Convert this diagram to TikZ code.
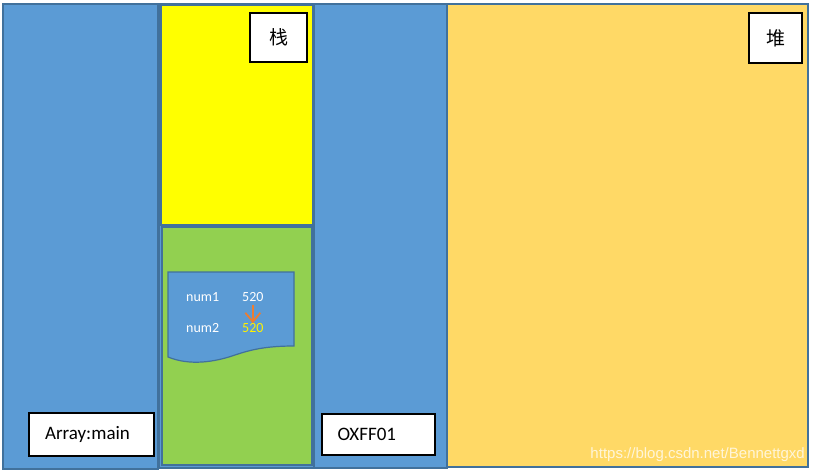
\documentclass[tikz,border=0pt]{standalone}
\usepackage{fontspec}
\setmainfont{Carlito}
\newfontfamily\cjk{Noto Sans CJK SC}
\newfontfamily\wmfont{Liberation Sans}
\usetikzlibrary{arrows.meta,positioning}

\definecolor{colblue}{HTML}{5B9BD5}
\definecolor{edgeblue}{HTML}{41719C}
\definecolor{stackyellow}{HTML}{FFFF00}
\definecolor{stackgreen}{HTML}{92D050}
\definecolor{heapgold}{HTML}{FFD966}
\definecolor{arroworange}{HTML}{ED7D31}

\begin{document}
\begin{tikzpicture}[x=1pt,y=-1pt,line join=miter]
	\tikzstyle{area}=[draw=edgeblue,line width=2.5pt]
	\tikzstyle{tag}=[draw=black,fill=white,line width=2pt,text=black,inner sep=0pt]
	\tikzstyle{label}=[tag,minimum height=43pt,text width=93pt,inner xsep=16pt,align=left,
	                   font=\fontsize{19}{22}\selectfont]
	\tikzstyle{var}=[inner sep=0pt,text=white,font=\fontsize{14}{16}\selectfont]

	\useasboundingbox (0,0) rectangle (813,474);

	% columns
	\filldraw[fill=colblue,area] (3,4) rectangle (158,469);
	\filldraw[fill=colblue,area] (159,4) rectangle (314,468);
	\filldraw[fill=stackyellow,draw=edgeblue,line width=1.2pt] (161,5) rectangle (313,225);
	\filldraw[fill=stackgreen,draw=edgeblue,line width=1.2pt] (162,227) rectangle (312,465);
	\filldraw[fill=colblue,area] (314,4) rectangle (447,468);
	\filldraw[fill=heapgold,area] (447,4) rectangle (808,467);

	% variables
	\filldraw[fill=colblue,draw=edgeblue,line width=1.2pt]
		(168,272) -- (294,272) -- (294,346)
		.. controls (265,346) and (250,350) .. (235,355)
		.. controls (215,362) and (190,366) .. (168,357) -- cycle;

	\node[var,anchor=west]	(n1)	at (186,297)	{num1};
	\node[var,anchor=west]	(n1v)	at (242,297)	{520};
	\node[var,anchor=west]	(n2)	at (186,328)	{num2};
	\node[var,anchor=west,text=yellow]	(n2v)	at (242,328)	{520};

	\draw[arroworange,line width=1.8pt,-{Straight Barb[length=9pt,width=15pt]}]
		(n1v.south) ++(0,3) coordinate (a1) (a1) -- (n2v.north);

	% boxes
	\node[tag,minimum width=57pt,minimum height=49pt,font=\cjk\fontsize{19}{22}\selectfont]
		(stack)	at (278.5,37.5)	{栈};
	\node[tag,minimum width=53pt,minimum height=50pt,font=\cjk\fontsize{19}{22}\selectfont]
		(heap)	at (775.5,38)	{堆};
	\node[label,minimum width=125pt]	(main)	at (91.5,434.5)	{Array:main};
	\node[label,text width=81pt,minimum height=41pt]	(addr)	at (378,434)	{OXFF01};

	\node[text=white,opacity=0.75,inner sep=0pt,anchor=east,
	      font=\wmfont\fontsize{15}{17}\selectfont]
		(mark)	at (805,455)	{https://blog.csdn.net/Bennettgxd};
\end{tikzpicture}
\end{document}
